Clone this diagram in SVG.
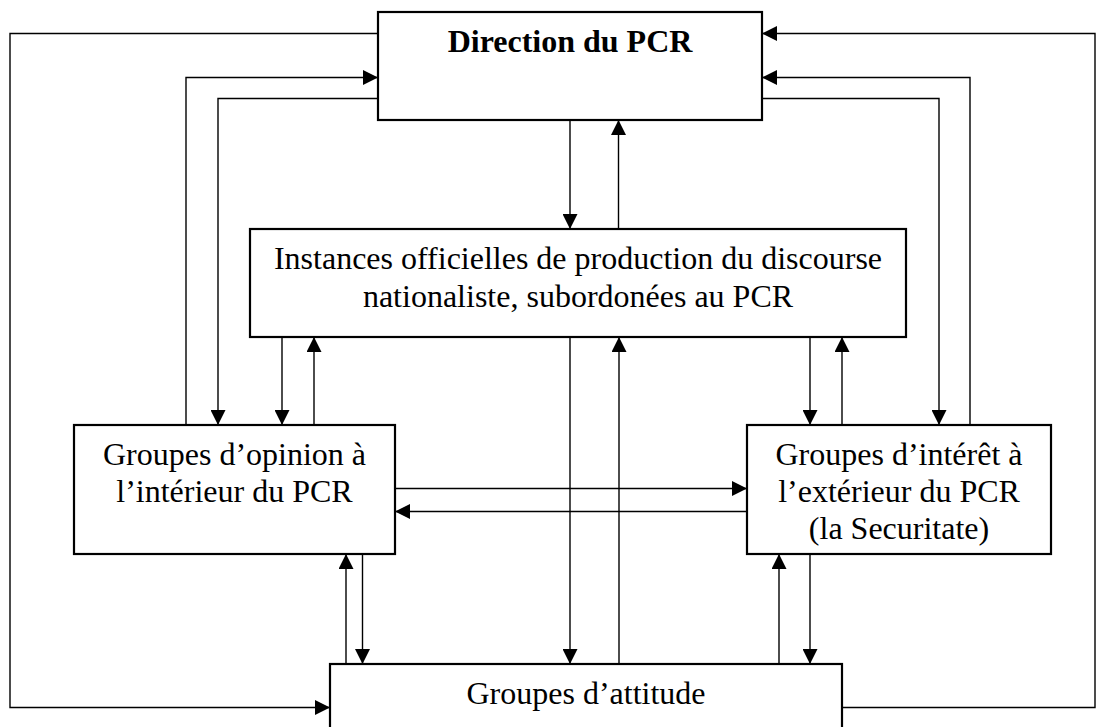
<svg xmlns="http://www.w3.org/2000/svg" width="1106" height="727" viewBox="0 0 1106 727">
<style>
.box{fill:#fff;stroke:#000;stroke-width:2.2}
.lbl{font-family:"Liberation Serif","Times New Roman",serif;font-size:32px;fill:#000;text-anchor:middle}
.bold{font-weight:bold}
.c{fill:none;stroke:#000;stroke-width:1.4}
.a{marker-end:url(#ah)}
</style>
<defs>
<marker id="ah" markerUnits="userSpaceOnUse" markerWidth="15" markerHeight="15" refX="15" refY="7.5" orient="auto" viewBox="0 0 15 15">
<path d="M0,0 L15,7.5 L0,15 z" fill="#000"/>
</marker>
</defs>
<rect width="1106" height="727" fill="#fff"/>
<g id="connectors">
<path class="c a" d="M378,33.5 H10 V707.5 H330"/>
<path class="c a" d="M842,707.5 H1095 V33.5 H762"/>
<path class="c a" d="M186,425 V77.5 H378"/>
<path class="c a" d="M378,98.5 H218 V425"/>
<path class="c a" d="M970,425 V77.5 H762"/>
<path class="c a" d="M762,98.5 H939 V425"/>
<path class="c a" d="M570,120 V229"/>
<path class="c a" d="M618.5,229 V120"/>
<path class="c a" d="M282,337 V425"/>
<path class="c a" d="M314,425 V337"/>
<path class="c a" d="M810,337 V425"/>
<path class="c a" d="M842,425 V337"/>
<path class="c a" d="M570,337 V664"/>
<path class="c a" d="M619,664 V337"/>
<path class="c a" d="M395,488.5 H747"/>
<path class="c a" d="M747,511.5 H395"/>
<path class="c a" d="M346,664 V554"/>
<path class="c a" d="M362.5,554 V664"/>
<path class="c a" d="M779,664 V554"/>
<path class="c a" d="M810,554 V664"/>
</g>
<g id="direction">
<rect class="box" x="378" y="12" width="384" height="108"/>
<text class="lbl bold" x="570" y="52">Direction du PCR</text>
</g>
<g id="instances">
<rect class="box" x="250" y="229" width="656" height="108"/>
<text class="lbl" x="578" y="269">Instances officielles de production du discourse</text>
<text class="lbl" x="578" y="307">nationaliste, subordonées au PCR</text>
</g>
<g id="opinion">
<rect class="box" x="74" y="425" width="321" height="129"/>
<text class="lbl" x="234.5" y="465">Groupes d’opinion à</text>
<text class="lbl" x="234.5" y="502">l’intérieur du PCR</text>
</g>
<g id="interet">
<rect class="box" x="747" y="425" width="304" height="129"/>
<text class="lbl" x="899" y="465">Groupes d’intérêt à</text>
<text class="lbl" x="899" y="502">l’extérieur du PCR</text>
<text class="lbl" x="899" y="538.5">(la Securitate)</text>
</g>
<g id="attitude">
<rect class="box" x="330" y="664" width="512" height="110"/>
<text class="lbl" x="586" y="704">Groupes d’attitude</text>
</g>
</svg>
